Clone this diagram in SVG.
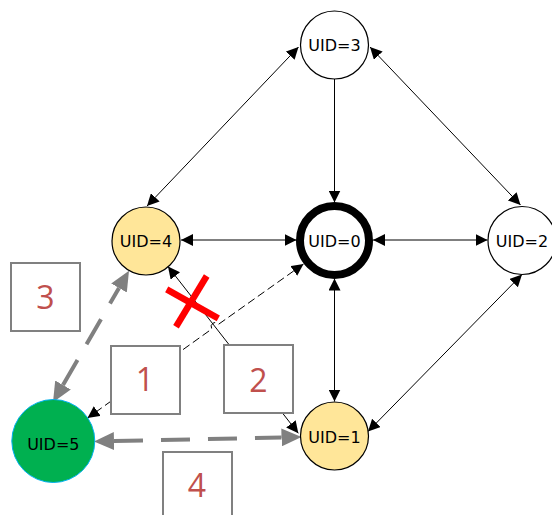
<svg xmlns="http://www.w3.org/2000/svg" width="552" height="515" viewBox="0 0 552 515">
  <style>
    .node { stroke: #000; stroke-width: 1.2; fill: #fff; }
    .uid { font-family: "DejaVu Sans", Verdana, sans-serif; font-size: 16px; fill: #000; text-anchor: middle; }
    .box { fill: #fff; stroke: #808080; stroke-width: 2; }
    .num { font-family: "Open Sans", "Liberation Sans", sans-serif; font-size: 32px; fill: #C0504D; text-anchor: middle; }
    .link { stroke: #000; stroke-width: 1; fill: none; }
    .dash { stroke-dasharray: 8 4; }
    .big { stroke: #808080; stroke-width: 4; fill: none; stroke-dasharray: 29 18; }
    .cross { stroke: #FF0000; stroke-width: 6.5; }
  </style>
  <defs>
    <marker id="tip" markerUnits="userSpaceOnUse" markerWidth="12" markerHeight="12" refX="12" refY="6" orient="auto-start-reverse">
      <path d="M0,0 L12,6 L0,12 z" fill="#000"/>
    </marker>
    <marker id="grayTip" markerUnits="userSpaceOnUse" markerWidth="20" markerHeight="18" refX="0" refY="9" orient="auto-start-reverse">
      <path d="M0,0 L20,9 L0,18 z" fill="#808080"/>
    </marker>
  </defs>

  <g id="connectors">
    <line class="link" x1="298.5" y1="47" x2="147" y2="206" marker-start="url(#tip)" marker-end="url(#tip)"/>
    <line class="link" x1="334.5" y1="79" x2="334.5" y2="202.5" marker-end="url(#tip)"/>
    <line class="link" x1="370" y1="47" x2="520.5" y2="205" marker-start="url(#tip)" marker-end="url(#tip)"/>
    <line class="link" x1="181" y1="240" x2="296.5" y2="240" marker-start="url(#tip)" marker-end="url(#tip)"/>
    <line class="link" x1="373" y1="240" x2="487.5" y2="240" marker-start="url(#tip)" marker-end="url(#tip)"/>
    <line class="link" x1="334.5" y1="278.5" x2="334.5" y2="401.5" marker-start="url(#tip)" marker-end="url(#tip)"/>
    <line class="link" x1="522" y1="274.5" x2="368" y2="431.5" marker-start="url(#tip)" marker-end="url(#tip)"/>
    <line class="link" x1="298.3" y1="433.3" x2="168" y2="266.5" marker-start="url(#tip)" marker-end="url(#tip)"/>
    <!-- dashed link with a jump over the crossing line -->
    <path class="link dash" d="M303.5,264 L218.5,324.3 A4,4 0 0 0 211.9,328.9 L87.5,418" marker-start="url(#tip)" marker-end="url(#tip)"/>
    <!-- thick grey dashed links -->
    <line class="big" x1="63" y1="385" x2="119" y2="288" marker-start="url(#grayTip)" marker-end="url(#grayTip)"/>
    <line class="big" x1="114" y1="441.1" x2="281.5" y2="437.4" marker-start="url(#grayTip)" marker-end="url(#grayTip)"/>
    <!-- broken link mark -->
    <line class="cross" x1="206.7" y1="276" x2="176" y2="326.7"/>
    <line class="cross" x1="166.7" y1="289.3" x2="218.3" y2="318.3"/>
  </g>

  <g id="node-3">
    <circle class="node" cx="334.5" cy="45" r="34"/>
    <text class="uid" x="334.5" y="51">UID=3</text>
  </g>
  <g id="node-0">
    <circle cx="334.5" cy="240.5" r="34.5" fill="#fff" stroke="#000" stroke-width="8"/>
    <text class="uid" x="334.5" y="246.5">UID=0</text>
  </g>
  <g id="node-2">
    <circle class="node" cx="522" cy="240.5" r="34"/>
    <text class="uid" x="522" y="246.5">UID=2</text>
  </g>
  <g id="node-4">
    <circle class="node" cx="146" cy="241" r="34" fill="#FFE699" style="fill:#FFE699"/>
    <text class="uid" x="146" y="247">UID=4</text>
  </g>
  <g id="node-1">
    <circle class="node" cx="334.5" cy="436" r="34" style="fill:#FFE699"/>
    <text class="uid" x="334.5" y="442.5">UID=1</text>
  </g>
  <g id="node-5">
    <circle cx="53.3" cy="441" r="41.5" fill="#00B050" stroke="#00B0F0" stroke-width="1"/>
    <text class="uid" x="53.3" y="449.5">UID=5</text>
  </g>

  <g id="step-3">
    <rect class="box" x="11" y="263" width="69" height="68"/>
    <text class="num" x="45.5" y="308.5">3</text>
  </g>
  <g id="step-1">
    <rect class="box" x="111" y="346" width="69" height="68"/>
    <text class="num" x="145" y="391">1</text>
  </g>
  <g id="step-2">
    <rect class="box" x="224" y="345" width="69" height="68"/>
    <text class="num" x="258.5" y="391.5">2</text>
  </g>
  <g id="step-4">
    <rect class="box" x="163" y="452" width="69" height="68"/>
    <text class="num" x="197" y="497">4</text>
  </g>
</svg>
